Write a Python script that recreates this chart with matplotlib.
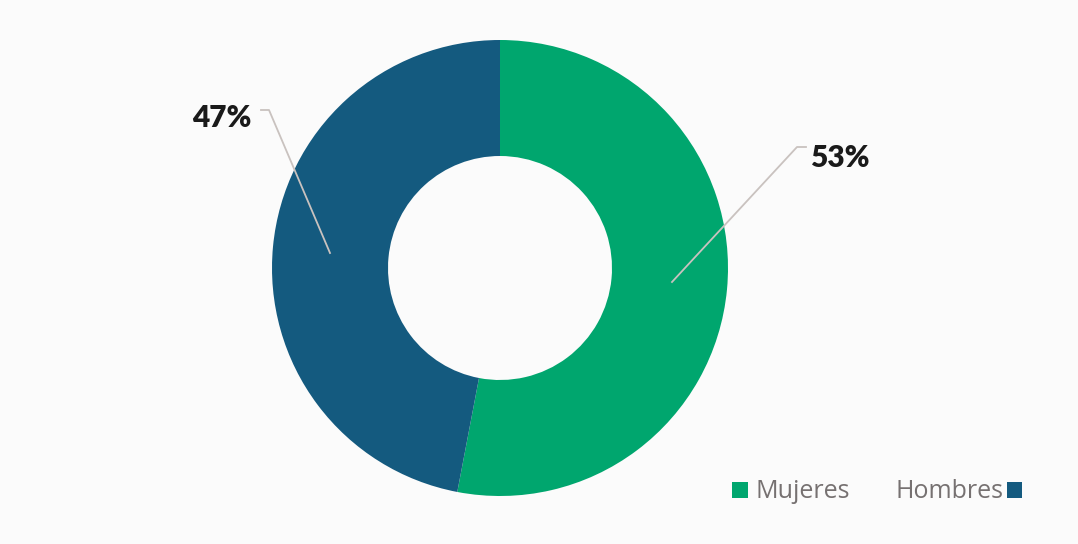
import matplotlib
matplotlib.use("Agg")
from matplotlib import pyplot as plt

# Data
categories = ["Mujeres", "Hombres"]
shares = [53, 47]
colors = ["#00A66E", "#145A7F"]

W, H = 1078, 544
fig = plt.figure(figsize=(W / 100, H / 100), dpi=100, facecolor="#fbfbfb")
ax = fig.add_axes([0, 0, 1, 1])
ax.set_facecolor("#fbfbfb")

# donut (y axis inverted, so counterclockwise in data = clockwise on screen)
wedges, _ = ax.pie(shares, colors=colors, startangle=-90, counterclock=True,
                   center=(500, 268), radius=228, frame=True,
                   wedgeprops=dict(width=116, linewidth=0))
ax.set_xlim(0, W)
ax.set_ylim(H, 0)
ax.set_aspect("equal")
ax.axis("off")

# labels with leader lines
line_kw = dict(color="#c9c2bf", lw=1.3)
text_kw = dict(fontsize=21.5, fontweight="heavy", family="Lato", color="#1a1a1a", va="center")

ax.plot([672, 797, 806], [282, 147, 147], **line_kw)
ax.text(810, 158, f"{shares[0]}%", ha="left", **text_kw)

ax.plot([330, 269, 261], [253, 110, 110], **line_kw)
ax.text(251, 118, f"{shares[1]}%", ha="right", **text_kw)

# legend: Mujeres marker first, Hombres marker last
leg_kw = dict(frameon=False, handlelength=0.62, handleheight=0.62,
              borderpad=0, borderaxespad=0,
              bbox_transform=fig.transFigure, labelcolor="#767171",
              prop=dict(family="Open Sans", size=18))
leg1 = ax.legend([wedges[0]], [categories[0]], loc="center left", handletextpad=0.3,
                 bbox_to_anchor=(732 / W, 1 - 492 / H), markerfirst=True, **leg_kw)
ax.add_artist(leg1)
ax.legend([wedges[1]], [categories[1]], loc="center right", handletextpad=0.1,
          bbox_to_anchor=(1022 / W, 1 - 492 / H), markerfirst=False, **leg_kw)

fig.savefig("out.png", dpi=100, facecolor=fig.get_facecolor())
